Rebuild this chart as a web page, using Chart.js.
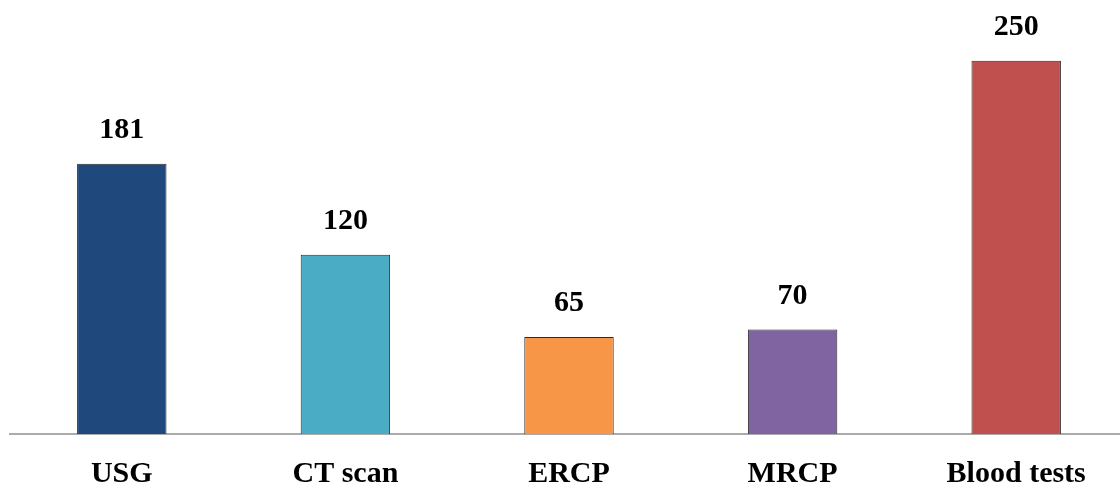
<!DOCTYPE html>
<html>
<head>
<meta charset="utf-8">
<script src="https://cdn.jsdelivr.net/npm/chart.js@4"></script>
<style>
  html, body { margin: 0; padding: 0; background: #fff; overflow: hidden; }
  #wrap { width: 1128px; height: 488px; }
</style>
</head>
<body>
<div id="wrap"><canvas id="examChart"></canvas></div>
<script>
// data
const categories = ['USG', 'CT scan', 'ERCP', 'MRCP', 'Blood tests'];
const counts = [181, 120, 65, 70, 250];
const barColors = ['#1F497D', '#4BACC6', '#F79646', '#8064A2', '#C0504D'];

// draws the number above each bar
const valueLabels = {
    id: 'valueLabels',
    afterDatasetsDraw: function(chart) {
        const ctx = chart.ctx;
        const meta = chart.getDatasetMeta(0);
        ctx.save();
        ctx.font = 'bold 30px "Liberation Serif", "Times New Roman", serif';
        ctx.fillStyle = '#000';
        ctx.textAlign = 'center';
        ctx.textBaseline = 'alphabetic';
        meta.data.forEach(function(bar, i) {
            ctx.fillText(String(chart.data.datasets[0].data[i]), bar.x, bar.y - 26);
        });
        ctx.restore();
    }
};

const ctx = document.getElementById('examChart');
new Chart(ctx, {
    type: 'bar',
    data: {
        labels: categories,
        datasets: [{
            data: counts,
            backgroundColor: barColors,
            borderColor: '#2b2b2b',
            borderWidth: 1,
            borderSkipped: 'bottom',
            categoryPercentage: 1.0,
            barPercentage: 0.4
        }]
    },
    options: {
        responsive: true,
        maintainAspectRatio: false,
        animation: false,
        layout: { padding: { left: 10, right: 0, top: 16, bottom: -18 } },
        plugins: {
            legend: { display: false },
            tooltip: { enabled: false }
        },
        scales: {
            x: {
                grid: { display: false },
                border: { display: true, color: '#ababab', width: 2 },
                ticks: {
                    color: '#000',
                    padding: 14,
                    font: { family: '"Liberation Serif", "Times New Roman", serif', size: 30, weight: 'bold' }
                }
            },
            y: {
                display: false,
                min: 0,
                max: 280
            }
        }
    },
    plugins: [valueLabels]
});
</script>
</body>
</html>
